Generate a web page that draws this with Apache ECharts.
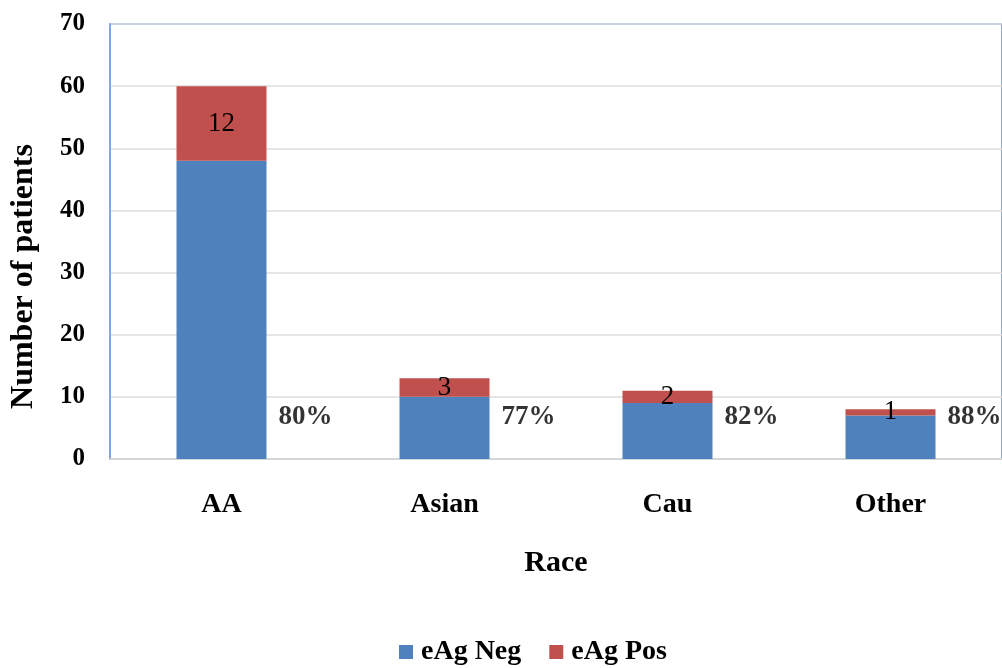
<!DOCTYPE html>
<html>
<head>
<meta charset="utf-8">
<script src="https://cdn.jsdelivr.net/npm/echarts@6/dist/echarts.min.js"></script>
<style>
  html, body { margin: 0; padding: 0; background: #fff; }
  #chart { width: 1002px; height: 668px; }
</style>
</head>
<body>
<div id="chart"></div>
<script>
// Patients by race, split by eAg status
const categories = ['AA', 'Asian', 'Cau', 'Other'];
const eAgNeg = [48, 10, 9, 7];
const eAgPos = [12, 3, 2, 1];
const yTicks = [0, 10, 20, 30, 40, 50, 60, 70];

// Share of eAg-negative patients in each group, shown beside each bar
const negShare = eAgNeg.map((v, i) => Math.round(100 * v / (v + eAgPos[i])) + '%');
// Height on the value axis where the share labels sit
const SHARE_LABEL_LEVEL = 6.8;

const serif = '"Liberation Serif", "Times New Roman", serif';

const chart = echarts.init(document.getElementById('chart'));
chart.setOption({
  animation: false,
  backgroundColor: '#ffffff',
  textStyle: { fontFamily: serif, color: '#000' },
  grid: {
    left: 108, top: 24, right: -6, bottom: 209,
    show: true, borderColor: '#5F8FD3', borderWidth: 1.5, backgroundColor: 'transparent'
  },
  legend: {
    top: 633,
    left: 394,
    itemWidth: 14,
    itemHeight: 14,
    itemGap: 28,
    icon: 'rect',
    data: ['eAg Neg', 'eAg Pos'],
    textStyle: { fontFamily: serif, fontSize: 28, fontWeight: 'bold', color: '#000', padding: [0, 0, 0, 3] }
  },
  xAxis: {
    type: 'category',
    data: categories,
    name: 'Race',
    nameLocation: 'middle',
    nameGap: 89,
    nameTextStyle: { fontFamily: serif, fontSize: 30, fontWeight: 'bold', color: '#000', verticalAlign: 'top' },
    axisLine: { show: true, lineStyle: { color: '#D9D9D9', width: 1.5 } },
    axisTick: { show: false },
    axisLabel: { margin: 32, fontFamily: serif, fontSize: 28, fontWeight: 'bold', color: '#000' }
  },
  yAxis: {
    type: 'value',
    min: yTicks[0],
    max: yTicks[yTicks.length - 1],
    interval: yTicks[1] - yTicks[0],
    name: 'Number of patients',
    nameLocation: 'middle',
    nameGap: 70,
    nameTextStyle: { fontFamily: serif, fontSize: 32, fontWeight: 'bold', color: '#000', padding: [0, 70, 0, 0] },
    axisLine: { show: true, lineStyle: { color: '#7FA5DC', width: 1.5 } },
    axisTick: { show: false },
    axisLabel: { margin: 25, fontFamily: serif, fontSize: 25, fontWeight: 'bold', color: '#000' },
    splitLine: { show: true, lineStyle: { color: '#DCDCDC', width: 1.5 } }
  },
  series: [
    {
      name: 'eAg Neg',
      type: 'bar',
      stack: 'race',
      barWidth: 90,
      itemStyle: { color: '#4F81BD' },
      data: eAgNeg
    },
    {
      name: 'eAg Pos',
      type: 'bar',
      stack: 'race',
      barWidth: 90,
      itemStyle: { color: '#C0504D' },
      label: {
        show: true,
        position: 'inside',
        fontFamily: serif,
        fontSize: 27,
        color: '#000'
      },
      data: eAgPos
    },
    {
      name: 'share',
      type: 'scatter',
      symbolSize: 0,
      silent: true,
      z: 5,
      label: {
        show: true,
        position: 'right',
        distance: 57,
        fontFamily: serif,
        fontSize: 27,
        fontWeight: 'bold',
        color: '#000',
        formatter: p => negShare[p.dataIndex]
      },
      data: categories.map(() => SHARE_LABEL_LEVEL)
    }
  ]
});
</script>
</body>
</html>
